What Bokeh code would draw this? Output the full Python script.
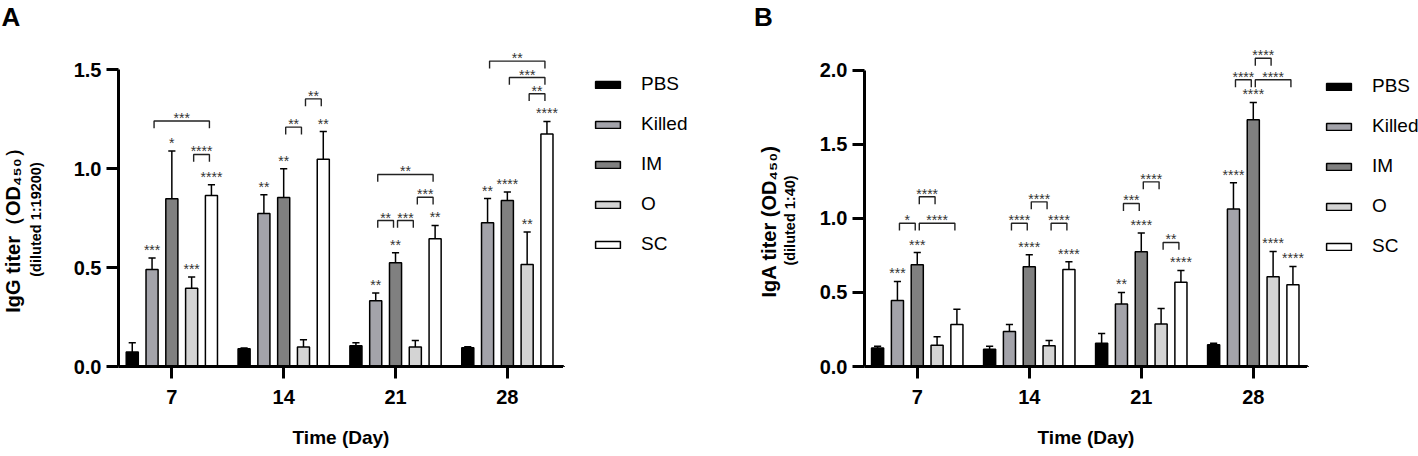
import math
from bokeh.plotting import figure
from bokeh.models import FixedTicker, NumeralTickFormatter, Legend, LegendItem, ColumnDataSource
from bokeh.layouts import row
from bokeh.embed import file_html
from bokeh.resources import INLINE
from bokeh.core.properties import value

# ---------------- data ----------------
days = ["7", "14", "21", "28"]
groups = ["PBS", "Killed", "IM", "O", "SC"]
colors = ["#000000", "#a3a3aa", "#808080", "#d4d4d4", "#ffffff"]

# Panel A: IgG
igg_pbs = [0.073, 0.090, 0.105, 0.095]
igg_pbs_err = [0.047, 0.004, 0.015, 0.005]
igg_killed = [0.490, 0.774, 0.332, 0.727]
igg_killed_err = [0.058, 0.094, 0.039, 0.122]
igg_im = [0.848, 0.854, 0.524, 0.839]
igg_im_err = [0.241, 0.146, 0.051, 0.043]
igg_o = [0.396, 0.098, 0.098, 0.516]
igg_o_err = [0.057, 0.037, 0.033, 0.164]
igg_sc = [0.865, 1.048, 0.646, 1.176]
igg_sc_err = [0.054, 0.140, 0.067, 0.063]
igg_stars = [
    ["", "", "", ""],
    ["***", "**", "**", "**"],
    ["*", "**", "**", "****"],
    ["***", "", "", "**"],
    ["****", "**", "**", "****"],
]
# brackets: (day index, bar i, bar j, bracket level, label)
igg_brackets = [
    (0, 3, 4, 1.072, "****"), (0, 1, 4, 1.241, "***"),
    (1, 2, 3, 1.210, "**"), (1, 3, 4, 1.353, "**"),
    (2, 1, 2, 0.738, "**"), (2, 2, 3, 0.738, "***"), (2, 3, 4, 0.856, "***"), (2, 1, 4, 0.971, "**"),
    (3, 3, 4, 1.379, "**"), (3, 2, 4, 1.461, "***"), (3, 1, 4, 1.544, "**"),
]
igg_yticks = [0.0, 0.5, 1.0, 1.5]

# Panel B: IgA
iga_pbs = [0.124, 0.117, 0.157, 0.146]
iga_pbs_err = [0.013, 0.020, 0.066, 0.011]
iga_killed = [0.445, 0.236, 0.421, 1.062]
iga_killed_err = [0.129, 0.047, 0.079, 0.178]
iga_im = [0.686, 0.673, 0.774, 1.665]
iga_im_err = [0.083, 0.081, 0.126, 0.117]
iga_o = [0.144, 0.140, 0.286, 0.605]
iga_o_err = [0.056, 0.035, 0.105, 0.171]
iga_sc = [0.283, 0.655, 0.569, 0.551]
iga_sc_err = [0.104, 0.051, 0.079, 0.124]
iga_stars = [
    ["", "", "", ""],
    ["***", "", "**", "****"],
    ["***", "****", "****", "****"],
    ["", "", "", "****"],
    ["", "****", "****", "****"],
]
iga_brackets = [
    (0, 1, 2, 0.967, "*"), (0, 2, 4, 0.967, "****"), (0, 2, 3, 1.145, "****"),
    (1, 1, 2, 0.967, "****"), (1, 2, 3, 1.111, "****"), (1, 3, 4, 0.967, "****"),
    (2, 1, 2, 1.100, "***"), (2, 2, 3, 1.246, "****"), (2, 3, 4, 0.837, "**"),
    (3, 1, 2, 1.935, "****"), (3, 2, 4, 1.935, "****"), (3, 2, 3, 2.080, "****"),
]
iga_yticks = [0.0, 0.5, 1.0, 1.5, 2.0]

FONT = "Liberation Sans"
STEP = 0.177     # bar pitch within a day group (x units)
BAR_W = 0.108
CAP = 0.032
INSET = 0.018
H = 456
BB = 90          # common bottom border of every figure in the row
FB = H - BB


def bar_style(col):
    return dict(fill_color=col, line_color="black", line_width=1.5)


def build(means, errs, stars, brackets, yticks, cfg):
    p = figure(width=cfg["w"], height=H, output_backend="svg", toolbar_location=None,
               x_range=(cfg["x0"], cfg["x1"]), y_range=(0, FB / cfg["ppu"]),
               min_border_left=cfg["bl"], min_border_right=0,
               min_border_top=0, min_border_bottom=BB)
    p.outline_line_color = None
    p.grid.visible = False

    sources = []
    for k, (m, e, col) in enumerate(zip(means, errs, colors)):
        xs = [i + (k - 2) * STEP for i in range(len(days))]
        tops = [a + b for a, b in zip(m, e)]
        src = ColumnDataSource(dict(x=xs, top=m, etop=tops,
                                    xl=[x - CAP for x in xs], xr=[x + CAP for x in xs],
                                    star=stars[k]))
        sources.append(src)
        p.vbar(x="x", top="top", bottom=0, width=BAR_W, source=src, **bar_style(col))
        p.segment(x0="x", y0="top", x1="x", y1="etop", source=src, line_color="black", line_width=1.5)
        p.segment(x0="xl", y0="etop", x1="xr", y1="etop", source=src, line_color="black", line_width=1.5)
        p.text(x="x", y="etop", text="star", source=src, text_align="center",
               text_baseline="middle", y_offset=-8, text_font=value(FONT),
               text_font_size="14px", text_color="#333333")

    leg = cfg["leg"]
    bx0, bx1, by, bt, bxm = [], [], [], [], []
    for (d, i, j, lev, lab) in brackets:
        a = d + (i - 2) * STEP + INSET
        b = d + (j - 2) * STEP - INSET
        bx0.append(a); bx1.append(b); by.append(lev); bt.append(lab); bxm.append((a + b) / 2)
    xsl = [[a, a, b, b] for a, b in zip(bx0, bx1)]
    ysl = [[y - leg, y, y, y - leg] for y in by]
    p.multi_line(xs=xsl, ys=ysl, line_color="#222222", line_width=1.4)
    p.text(x=bxm, y=by, text=bt, text_align="center", text_baseline="middle",
           y_offset=-3, text_font=value(FONT), text_font_size="14px", text_color="#333333")

    xa = p.xaxis[0]
    xa.ticker = FixedTicker(ticks=list(range(len(days))))
    xa.major_label_overrides = {i: d for i, d in enumerate(days)}
    xa.axis_label = "Time (Day)"
    xa.axis_label_text_font = FONT
    xa.axis_label_text_font_style = "bold"
    xa.axis_label_text_font_size = "19px"
    xa.axis_label_text_color = "black"
    xa.axis_label_standoff = 20
    ya = p.yaxis[0]
    ya.ticker = FixedTicker(ticks=yticks)
    ya.formatter = NumeralTickFormatter(format="0.0")
    ya.bounds = (0, yticks[-1])
    for ax in (xa, ya):
        ax.axis_line_width = 3
        ax.major_tick_line_width = 3
        ax.major_tick_out = 12
        ax.major_tick_in = 0
        ax.minor_tick_line_color = None
        ax.major_label_text_font = FONT
        ax.major_label_text_font_style = "bold"
        ax.major_label_text_font_size = "20px"
        ax.major_label_text_color = "black"
        ax.axis_line_color = "black"
        ax.major_tick_line_color = "black"
    xa.major_label_standoff = 11
    ya.major_label_standoff = 5
    return p, sources


def legend_fig(width, loc, sources):
    # the series' own sources, kept far outside this figure's view; only the legend shows
    f = figure(width=width, height=H, output_backend="svg", toolbar_location=None,
               x_range=(100, 101), y_range=(100, 101), x_axis_type=None, y_axis_type=None,
               min_border_left=0, min_border_right=0, min_border_top=0, min_border_bottom=BB)
    f.outline_line_color = None
    f.grid.visible = False
    items = []
    for name, col, src in zip(groups, colors, sources):
        r = f.vbar(x="x", top="top", bottom=0, width=BAR_W, source=src, **bar_style(col))
        items.append(LegendItem(label=name, renderers=[r]))
    f.add_layout(Legend(items=items, location=loc, glyph_width=31, glyph_height=9,
                        label_text_font=FONT, label_text_font_size="19px", label_height=20,
                        label_text_color="black",
                        spacing=18, label_standoff=18, padding=0, margin=0,
                        border_line_color=None, background_fill_alpha=0))
    return f


def label_fig(x_start, width, texts):
    f = figure(width=width, height=H, output_backend="svg", toolbar_location=None,
               x_range=(x_start, x_start + width), y_range=(BB, H),
               x_axis_type=None, y_axis_type=None,
               min_border_left=0, min_border_right=0, min_border_top=0, min_border_bottom=BB)
    f.outline_line_color = None
    f.grid.visible = False
    for (txt, px, py, size, ang, align, base) in texts:
        f.text(x=[px], y=[H - py], text=[txt], angle=ang, text_align=align, text_baseline=base,
               text_font=value(FONT), text_font_size=size, text_font_style="bold", text_color="black")
    return f


R = math.pi / 2
labA = label_fig(0, 62, [
    ("A", 1, 16, "26px", 0, "left", "middle"),
    ("IgG titer（OD₄₅₀）", 12, 225, "20px", R, "center", "middle"),
    ("(diluted 1:19200)", 35, 219, "14.5px", R, "center", "middle"),
])
labB = label_fig(748, 62, [
    ("B", 753.6, 16, "26px", 0, "left", "middle"),
    ("IgA titer (OD₄₅₀)", 768, 221, "20px", R, "center", "middle"),
    ("(diluted 1:40)", 789.5, 220, "14.5px", R, "center", "middle"),
])

cfgA = dict(w=501, bl=56, x0=-0.477, x1=3.502, ppu=197.8, leg=0.037)
cfgB = dict(w=497, bl=54, x0=-0.471, x1=3.484, ppu=148.2, leg=0.05)

pA, srcA = build([igg_pbs, igg_killed, igg_im, igg_o, igg_sc],
                 [igg_pbs_err, igg_killed_err, igg_im_err, igg_o_err, igg_sc_err],
                 igg_stars, igg_brackets, igg_yticks, cfgA)
pB, srcB = build([iga_pbs, iga_killed, iga_im, iga_o, iga_sc],
                 [iga_pbs_err, iga_killed_err, iga_im_err, iga_o_err, iga_sc_err],
                 iga_stars, iga_brackets, iga_yticks, cfgB)
legA = legend_fig(185, (29, 111), srcA)
legB = legend_fig(111, (16, 109), srcB)

layout = row(labA, pA, legA, labB, pB, legB, spacing=0)
open("out.html", "w").write(file_html(layout, INLINE))
